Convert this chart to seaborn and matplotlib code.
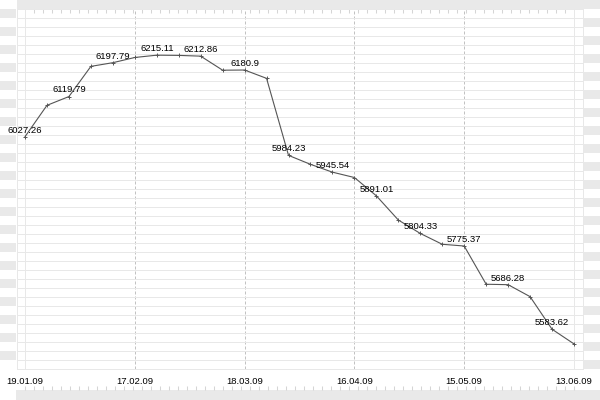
import numpy as np
import pandas as pd
import matplotlib
matplotlib.use("Agg")
import matplotlib.pyplot as plt
import seaborn as sns

# values, one point per step
values = [6027.26, 6099.5, 6119.79, 6189.3, 6197.79, 6209.8, 6215.11, 6214.6,
          6212.86, 6180.5, 6180.9, 6161.7, 5984.23, 5963.6, 5945.54, 5933.2,
          5891.01, 5835.3, 5804.33, 5779.4, 5775.37, 5687.3, 5686.28, 5658.7,
          5583.62, 5549.8]
label_idx = list(range(0, len(values), 2))
tick_pos = [0, 5, 10, 15, 20, 25]
tick_labels = ["19.01.09", "17.02.09", "18.03.09", "16.04.09", "15.05.09", "13.06.09"]
y_min, y_max = 5492.0, 6321.5
n_bands = 40

BAND = "#e9e9e9"
GRID = "#e8e8e8"
LINE = "#555555"

sns.set_theme(style="white")
plt.rcParams["font.family"] = ["Liberation Sans", "DejaVu Sans"]

W, H = 600, 400


def box(x0, y0, x1, y1):
    # pixel box -> figure fraction
    return [x0 / W, 1 - y1 / H, (x1 - x0) / W, (y1 - y0) / H]


fig = plt.figure(figsize=(6, 4), dpi=100)
fig.patch.set_facecolor("white")

# striped side strips
for pos, parity in [(box(0, 9, 16, 369), 1), (box(584, 9, 600, 369), 0)]:
    s = fig.add_axes(pos)
    s.set_ylim(y_min, y_max)
    s.set_xlim(0, 1)
    grid_s = np.linspace(y_min, y_max, n_bands + 1)
    for j in range(n_bands):
        if j % 2 == parity:
            s.axhspan(grid_s[j], grid_s[j + 1], color=BAND, lw=0)
    s.set_xticks([])
    s.set_yticks([])
    for sp in s.spines.values():
        sp.set_visible(False)

ax = fig.add_axes(box(17, 9, 583, 369))
ax.set_zorder(3)
ax.set_facecolor("white")
ax.set_axisbelow(True)

df = pd.DataFrame({"idx": np.arange(len(values)), "value": values})
sns.lineplot(data=df, x="idx", y="value", ax=ax, color=LINE, lw=0.8,
             marker="+", markersize=3.5, markeredgewidth=0.7,
             markeredgecolor=LINE, zorder=5)

n = len(values) - 1
ppu = (574 - 25) / n  # pixels per step
ax.set_xlim(-8 / ppu, n + 9 / ppu)
ax.set_ylim(y_min, y_max)

grid_y = np.linspace(y_min, y_max, n_bands + 1)
ax.set_yticks(grid_y)
ax.set_yticklabels([])
ax.tick_params(axis="y", length=0)
ax.yaxis.grid(True, color=GRID, lw=0.72)

ax.set_xticks(tick_pos, tick_labels)
ax.xaxis.grid(True, color="#c2c2c2", lw=0.72, ls=(0, (3, 2)))
ax.axvline(tick_pos[0], color=GRID, lw=0.72, zorder=1)
ax.axvline(tick_pos[-1], color=GRID, lw=0.72, zorder=1)
ax.tick_params(axis="x", which="major", direction="inout", length=6.5,
               width=0.75, color="#6b6b6b", labelsize=6.8, pad=2.5,
               labelcolor="black")

minor_x = np.arange(tick_pos[0], tick_pos[-1] + 0.01, 9 / ppu)
ax.set_xticks(minor_x, minor=True)
ax.tick_params(axis="x", which="minor", top=True, bottom=False,
               direction="in", length=3, width=0.75, color="#d5d5d5")

for side in ["left", "right", "bottom"]:
    ax.spines[side].set_color(GRID)
    ax.spines[side].set_linewidth(0.72)
ax.spines["top"].set_visible(False)
ax.set_xlabel("")
ax.set_ylabel("")

for i in label_idx:
    ax.annotate(f"{values[i]:g}", (i, values[i]), xytext=(0, 1.5),
                textcoords="offset points", ha="center", va="bottom",
                fontsize=6.8, color="black", zorder=6, annotation_clip=False)

# bottom band with small ticks
axb = fig.add_axes(box(16, 390, 600, 400))
axb.set_facecolor(BAND)
axb.set_xlim((16 - 25) / ppu, (600 - 25) / ppu)
axb.set_yticks([])
axb.set_xticks([])
axb.set_xticks(minor_x, minor=True)
axb.tick_params(axis="x", which="minor", top=True, bottom=False,
                direction="out", length=3, width=0.75, color="#d5d5d5")
for sp in axb.spines.values():
    sp.set_visible(False)

# top band
fig.add_artist(plt.Rectangle((17 / W, 1 - 9 / H), (W - 17) / W, 9 / H,
                             transform=fig.transFigure, color=BAND, lw=0))

fig.savefig("out.png", dpi=100)
